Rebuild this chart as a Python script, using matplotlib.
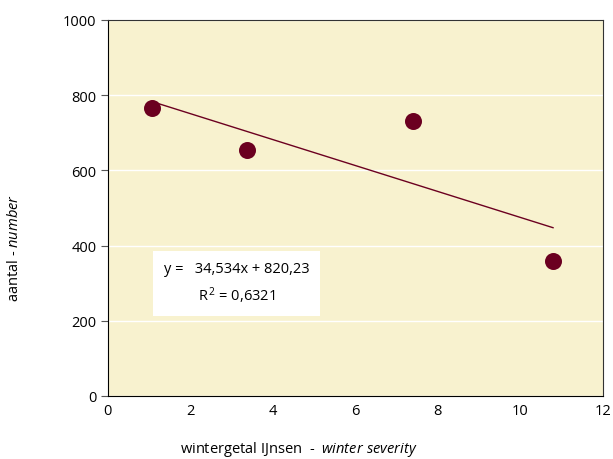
import numpy as np
import matplotlib.pyplot as plt

plt.rcParams['font.family'] = ['Open Sans', 'DejaVu Sans']
plt.rcParams['mathtext.fontset'] = 'custom'
plt.rcParams['mathtext.rm'] = 'Open Sans'
plt.rcParams['mathtext.it'] = 'Open Sans:italic'

# Data
severity = [1.07, 3.38, 7.39, 10.79]
count = [766, 655, 731, 358]

# trendline coefficients from the label
slope = -34.534
intercept = 820.23

W, H = 613, 460
fig = plt.figure(figsize=(W / 100, H / 100), dpi=100)
ax = fig.add_axes([107.5 / W, 1 - 397 / H, 495.5 / W, 376 / H])
ax.set_facecolor('#f8f2cf')

ax.set_xlim(0, 12)
ax.set_ylim(0, 1000)
ax.set_xticks(range(0, 13, 2))
ax.set_yticks(range(0, 1001, 200))
ax.yaxis.grid(True, color='white', linewidth=1.0)
ax.set_axisbelow(True)
ax.tick_params(axis='x', length=0, pad=5, labelsize=10.5)
ax.tick_params(axis='y', length=5, width=0.8, color='#555555', labelsize=10.5, pad=3)

for s in ['left', 'bottom']:
    ax.spines[s].set_color('black')
for s in ['top', 'right']:
    ax.spines[s].set_color('#333333')

# trendline
xs = np.array([min(severity), max(severity)])
ax.plot(xs, slope * xs + intercept, color='#6b0020', linewidth=1.0, zorder=2)
ax.scatter(severity, count, s=150, color='#6b0020', zorder=3, linewidths=0)

ax.text(3.12, 300, 'y =   34,534x + 820,23\nR$^{\\,2}$ = 0,6321', ha='center', va='center',
        fontsize=10.5, linespacing=1.55, multialignment='center',
        bbox=dict(facecolor='white', edgecolor='none', boxstyle='square,pad=0.75'))

fig.text(299 / W, 1 - 450 / H, 'wintergetal IJnsen  -  $\\it{winter\\ severity}$',
         ha='center', va='center', fontsize=10.5)
fig.text(14 / W, 1 - 248 / H, 'aantal - $\\it{number}$', rotation=90,
         ha='center', va='center', fontsize=10.5)

fig.savefig('out.png', dpi=100)
